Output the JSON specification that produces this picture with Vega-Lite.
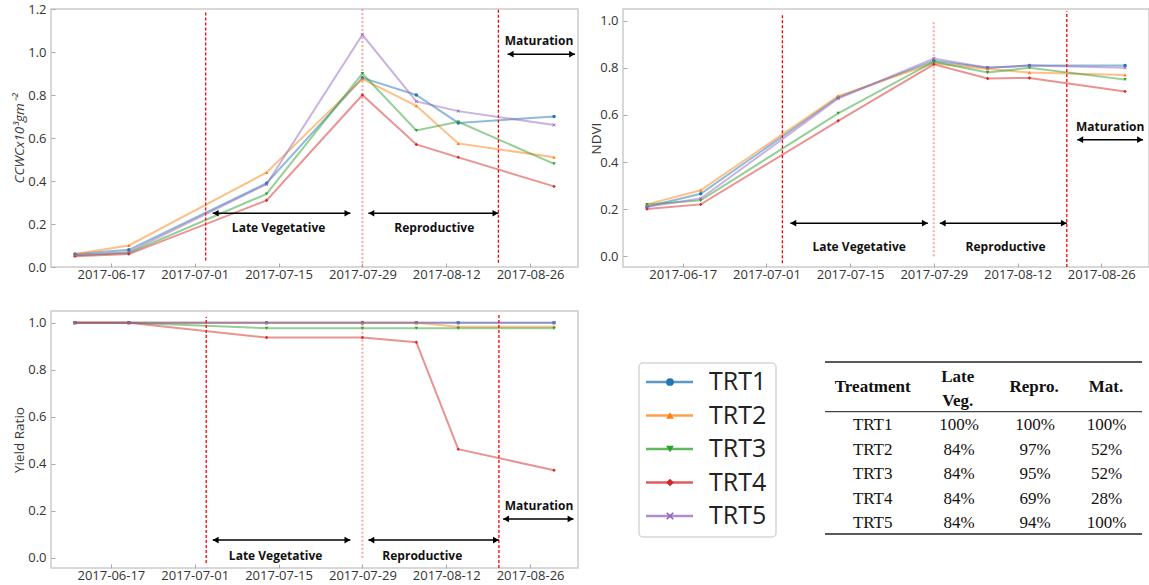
{
  "$schema": "https://vega.github.io/schema/vega-lite/v6.json",
  "autosize": {"type": "pad"},
  "padding": {"left": 11, "top": 2, "right": 0, "bottom": 0},
  "background": "white",
  "columns": 2,
  "bounds": "flush",
  "spacing": {"row": 44, "column": 45},
  "datasets": {
    "ccwc": [
      {"date":"2017-06-11","trt":"TRT1","value":0.06},{"date":"2017-06-20","trt":"TRT1","value":0.08},{"date":"2017-07-13","trt":"TRT1","value":0.39},{"date":"2017-07-29","trt":"TRT1","value":0.88},{"date":"2017-08-07","trt":"TRT1","value":0.80},{"date":"2017-08-14","trt":"TRT1","value":0.67},{"date":"2017-08-30","trt":"TRT1","value":0.70},
      {"date":"2017-06-11","trt":"TRT2","value":0.06},{"date":"2017-06-20","trt":"TRT2","value":0.10},{"date":"2017-07-13","trt":"TRT2","value":0.44},{"date":"2017-07-29","trt":"TRT2","value":0.875},{"date":"2017-08-07","trt":"TRT2","value":0.75},{"date":"2017-08-14","trt":"TRT2","value":0.575},{"date":"2017-08-30","trt":"TRT2","value":0.51},
      {"date":"2017-06-11","trt":"TRT3","value":0.055},{"date":"2017-06-20","trt":"TRT3","value":0.065},{"date":"2017-07-13","trt":"TRT3","value":0.34},{"date":"2017-07-29","trt":"TRT3","value":0.90},{"date":"2017-08-07","trt":"TRT3","value":0.635},{"date":"2017-08-14","trt":"TRT3","value":0.675},{"date":"2017-08-30","trt":"TRT3","value":0.48},
      {"date":"2017-06-11","trt":"TRT4","value":0.05},{"date":"2017-06-20","trt":"TRT4","value":0.06},{"date":"2017-07-13","trt":"TRT4","value":0.31},{"date":"2017-07-29","trt":"TRT4","value":0.80},{"date":"2017-08-07","trt":"TRT4","value":0.57},{"date":"2017-08-14","trt":"TRT4","value":0.51},{"date":"2017-08-30","trt":"TRT4","value":0.375},
      {"date":"2017-06-11","trt":"TRT5","value":0.055},{"date":"2017-06-20","trt":"TRT5","value":0.07},{"date":"2017-07-13","trt":"TRT5","value":0.385},{"date":"2017-07-29","trt":"TRT5","value":1.08},{"date":"2017-08-07","trt":"TRT5","value":0.77},{"date":"2017-08-14","trt":"TRT5","value":0.725},{"date":"2017-08-30","trt":"TRT5","value":0.66}
    ],
    "ndvi": [
      {"date":"2017-06-11","trt":"TRT1","value":0.21},{"date":"2017-06-20","trt":"TRT1","value":0.265},{"date":"2017-07-13","trt":"TRT1","value":0.675},{"date":"2017-07-29","trt":"TRT1","value":0.83},{"date":"2017-08-07","trt":"TRT1","value":0.80},{"date":"2017-08-14","trt":"TRT1","value":0.81},{"date":"2017-08-30","trt":"TRT1","value":0.81},
      {"date":"2017-06-11","trt":"TRT2","value":0.22},{"date":"2017-06-20","trt":"TRT2","value":0.28},{"date":"2017-07-13","trt":"TRT2","value":0.68},{"date":"2017-07-29","trt":"TRT2","value":0.82},{"date":"2017-08-07","trt":"TRT2","value":0.795},{"date":"2017-08-14","trt":"TRT2","value":0.78},{"date":"2017-08-30","trt":"TRT2","value":0.77},
      {"date":"2017-06-11","trt":"TRT3","value":0.22},{"date":"2017-06-20","trt":"TRT3","value":0.237},{"date":"2017-07-13","trt":"TRT3","value":0.607},{"date":"2017-07-29","trt":"TRT3","value":0.826},{"date":"2017-08-07","trt":"TRT3","value":0.78},{"date":"2017-08-14","trt":"TRT3","value":0.80},{"date":"2017-08-30","trt":"TRT3","value":0.75},
      {"date":"2017-06-11","trt":"TRT4","value":0.20},{"date":"2017-06-20","trt":"TRT4","value":0.22},{"date":"2017-07-13","trt":"TRT4","value":0.575},{"date":"2017-07-29","trt":"TRT4","value":0.815},{"date":"2017-08-07","trt":"TRT4","value":0.755},{"date":"2017-08-14","trt":"TRT4","value":0.757},{"date":"2017-08-30","trt":"TRT4","value":0.70},
      {"date":"2017-06-11","trt":"TRT5","value":0.21},{"date":"2017-06-20","trt":"TRT5","value":0.245},{"date":"2017-07-13","trt":"TRT5","value":0.67},{"date":"2017-07-29","trt":"TRT5","value":0.84},{"date":"2017-08-07","trt":"TRT5","value":0.80},{"date":"2017-08-14","trt":"TRT5","value":0.81},{"date":"2017-08-30","trt":"TRT5","value":0.80}
    ],
    "yield": [
      {"date":"2017-06-11","trt":"TRT1","value":1},{"date":"2017-06-20","trt":"TRT1","value":1},{"date":"2017-07-13","trt":"TRT1","value":1},{"date":"2017-07-29","trt":"TRT1","value":1},{"date":"2017-08-07","trt":"TRT1","value":1},{"date":"2017-08-14","trt":"TRT1","value":1},{"date":"2017-08-30","trt":"TRT1","value":1},
      {"date":"2017-06-11","trt":"TRT2","value":1},{"date":"2017-06-20","trt":"TRT2","value":1},{"date":"2017-07-13","trt":"TRT2","value":1},{"date":"2017-07-29","trt":"TRT2","value":1},{"date":"2017-08-07","trt":"TRT2","value":1},{"date":"2017-08-14","trt":"TRT2","value":0.983},{"date":"2017-08-30","trt":"TRT2","value":0.983},
      {"date":"2017-06-11","trt":"TRT3","value":1},{"date":"2017-06-20","trt":"TRT3","value":1},{"date":"2017-07-13","trt":"TRT3","value":0.977},{"date":"2017-07-29","trt":"TRT3","value":0.977},{"date":"2017-08-07","trt":"TRT3","value":0.977},{"date":"2017-08-14","trt":"TRT3","value":0.977},{"date":"2017-08-30","trt":"TRT3","value":0.977},
      {"date":"2017-06-11","trt":"TRT4","value":1},{"date":"2017-06-20","trt":"TRT4","value":1},{"date":"2017-07-13","trt":"TRT4","value":0.937},{"date":"2017-07-29","trt":"TRT4","value":0.937},{"date":"2017-08-07","trt":"TRT4","value":0.917},{"date":"2017-08-14","trt":"TRT4","value":0.462},{"date":"2017-08-30","trt":"TRT4","value":0.372},
      {"date":"2017-06-11","trt":"TRT5","value":1},{"date":"2017-06-20","trt":"TRT5","value":1},{"date":"2017-07-13","trt":"TRT5","value":1},{"date":"2017-07-29","trt":"TRT5","value":1},{"date":"2017-08-07","trt":"TRT5","value":1},{"date":"2017-08-14","trt":"TRT5","value":1},{"date":"2017-08-30","trt":"TRT5","value":1}
    ],
    "vlines": [
      {"panel":"ccwc","kind":"phase","date":"2017-07-02T20:00:00Z","lo":0.03,"hi":1.185},
      {"panel":"ccwc","kind":"phase","date":"2017-08-20T17:00:00Z","lo":0.02,"hi":1.2},
      {"panel":"ccwc","kind":"peak","date":"2017-07-29T00:00:00Z","lo":0,"hi":1.2},
      {"panel":"ndvi","kind":"phase","date":"2017-07-03T16:00:00Z","lo":-0.03,"hi":1.025},
      {"panel":"ndvi","kind":"phase","date":"2017-08-20T06:00:00Z","lo":-0.046,"hi":1.04},
      {"panel":"ndvi","kind":"peak","date":"2017-07-29T00:00:00Z","lo":0,"hi":1.0},
      {"panel":"yield","kind":"phase","date":"2017-07-02T22:00:00Z","lo":-0.023,"hi":1.025},
      {"panel":"yield","kind":"phase","date":"2017-08-20T19:00:00Z","lo":-0.044,"hi":1.04},
      {"panel":"yield","kind":"peak","date":"2017-07-29T00:00:00Z","lo":0,"hi":1.01}
    ],
    "arrows": [
      {"panel":"ccwc","label":"Late Vegetative","start":"2017-07-04T00:00:00Z","end":"2017-07-27T00:00:00Z","ay":0.25,"tx":"2017-07-15T00:00:00Z","ty":0.18},
      {"panel":"ccwc","label":"Reproductive","start":"2017-07-30T00:00:00Z","end":"2017-08-20T17:00:00Z","ay":0.25,"tx":"2017-08-10T00:00:00Z","ty":0.18},
      {"panel":"ccwc","label":"Maturation","start":"2017-08-22T06:00:00Z","end":"2017-09-02T12:00:00Z","ay":0.99,"tx":"2017-08-27T12:00:00Z","ty":1.05},
      {"panel":"ndvi","label":"Late Vegetative","start":"2017-07-05T00:00:00Z","end":"2017-07-28T00:00:00Z","ay":0.14,"tx":"2017-07-16T12:00:00Z","ty":0.04},
      {"panel":"ndvi","label":"Reproductive","start":"2017-07-30T00:00:00Z","end":"2017-08-20T06:00:00Z","ay":0.14,"tx":"2017-08-10T00:00:00Z","ty":0.04},
      {"panel":"ndvi","label":"Maturation","start":"2017-08-22T00:00:00Z","end":"2017-09-02T00:00:00Z","ay":0.495,"tx":"2017-08-27T12:00:00Z","ty":0.55},
      {"panel":"yield","label":"Late Vegetative","start":"2017-07-04T00:00:00Z","end":"2017-07-27T00:00:00Z","ay":0.075,"tx":"2017-07-14T12:00:00Z","ty":0.005},
      {"panel":"yield","label":"Reproductive","start":"2017-07-30T00:00:00Z","end":"2017-08-20T19:00:00Z","ay":0.075,"tx":"2017-08-08T00:00:00Z","ty":0.005},
      {"panel":"yield","label":"Maturation","start":"2017-08-21T12:00:00Z","end":"2017-09-02T06:00:00Z","ay":0.165,"tx":"2017-08-27T12:00:00Z","ty":0.22}
    ],
    "legend": [{"trt":"TRT1"},{"trt":"TRT2"},{"trt":"TRT3"},{"trt":"TRT4"},{"trt":"TRT5"}],
    "table": [
      {"Treatment":"TRT1","LateVeg":"100%","Repro":"100%","Mat":"100%"},
      {"Treatment":"TRT2","LateVeg":"84%","Repro":"97%","Mat":"52%"},
      {"Treatment":"TRT3","LateVeg":"84%","Repro":"95%","Mat":"52%"},
      {"Treatment":"TRT4","LateVeg":"84%","Repro":"69%","Mat":"28%"},
      {"Treatment":"TRT5","LateVeg":"84%","Repro":"94%","Mat":"100%"}
    ]
  },
  "concat": [
    {
      "width": 527, "height": 258,
      "layer": [
        {"data":{"name":"ccwc"},
         "mark":{"type":"line","strokeWidth":2,"opacity":0.5},
         "encoding":{
           "x":{"field":"date","type":"temporal","scale":{"type":"utc","domain":[{"year":2017,"month":6,"date":7,"utc":true},{"year":2017,"month":9,"date":3,"utc":true}]},
                "axis":{"values":[{"year":2017,"month":6,"date":17,"utc":true},{"year":2017,"month":7,"date":1,"utc":true},{"year":2017,"month":7,"date":15,"utc":true},{"year":2017,"month":7,"date":29,"utc":true},{"year":2017,"month":8,"date":12,"utc":true},{"year":2017,"month":8,"date":26,"utc":true}],"format":"%Y-%m-%d","title":null}},
           "y":{"field":"value","type":"quantitative","scale":{"domain":[0,1.2],"nice":false,"zero":false},
                "axis":{"values":[0,0.2,0.4,0.6,0.8,1,1.2],"format":".1f","title":"CCWCx10³gm⁻²","titleFontStyle":"italic","titleX":-32,"titleBaseline":"middle"}},
           "color":{"field":"trt","type":"nominal","scale":{"domain":["TRT1","TRT2","TRT3","TRT4","TRT5"],"range":["#1f77b4","#ff7f0e","#2ca02c","#d62728","#9467bd"]},"legend":null}}},
        {"data":{"name":"vlines"},"transform":[{"filter":"datum.panel==='ccwc' && datum.kind==='phase'"}],
         "mark":{"type":"rule","color":"#ff0000","strokeDash":[3,2],"strokeWidth":1.3},
         "encoding":{"x":{"field":"date","type":"temporal","scale":{"type":"utc","domain":[{"year":2017,"month":6,"date":7,"utc":true},{"year":2017,"month":9,"date":3,"utc":true}]}},
                     "y":{"field":"lo","type":"quantitative","scale":{"domain":[0,1.2],"nice":false,"zero":false}},"y2":{"field":"hi"}}},
        {"data":{"name":"vlines"},"transform":[{"filter":"datum.panel==='ccwc' && datum.kind==='peak'"}],
         "mark":{"type":"rule","color":"#ff7070","strokeDash":[2,2],"strokeWidth":2,"opacity":0.6},
         "encoding":{"x":{"field":"date","type":"temporal","scale":{"type":"utc","domain":[{"year":2017,"month":6,"date":7,"utc":true},{"year":2017,"month":9,"date":3,"utc":true}]}},
                     "y":{"field":"lo","type":"quantitative","scale":{"domain":[0,1.2],"nice":false,"zero":false}},"y2":{"field":"hi"}}},
        {"data":{"name":"ccwc"},
         "mark":{"type":"point","filled":true,"size":12,"opacity":1},
         "encoding":{
           "x":{"field":"date","type":"temporal","scale":{"type":"utc","domain":[{"year":2017,"month":6,"date":7,"utc":true},{"year":2017,"month":9,"date":3,"utc":true}]}},
           "y":{"field":"value","type":"quantitative","scale":{"domain":[0,1.2],"nice":false,"zero":false}},
           "color":{"field":"trt","type":"nominal","scale":{"domain":["TRT1","TRT2","TRT3","TRT4","TRT5"],"range":["#1f77b4","#ff7f0e","#2ca02c","#d62728","#9467bd"]},"legend":null},
           "shape":{"field":"trt","type":"nominal","scale":{"domain":["TRT1","TRT2","TRT3","TRT4","TRT5"],"range":["circle","triangle-up","triangle-down","diamond","M-1,-0.7L-0.7,-1L0,-0.3L0.7,-1L1,-0.7L0.3,0L1,0.7L0.7,1L0,0.3L-0.7,1L-1,0.7L-0.3,0Z"]},"legend":null}}},
        {"data":{"name":"arrows"},"transform":[{"filter":"datum.panel==='ccwc'"}],
         "mark":{"type":"rule","color":"black","strokeWidth":1.5},
         "encoding":{"x":{"field":"start","type":"temporal","scale":{"type":"utc","domain":[{"year":2017,"month":6,"date":7,"utc":true},{"year":2017,"month":9,"date":3,"utc":true}]}},"x2":{"field":"end"},
                     "y":{"field":"ay","type":"quantitative","scale":{"domain":[0,1.2],"nice":false,"zero":false}}}},
        {"data":{"name":"arrows"},"transform":[{"filter":"datum.panel==='ccwc'"}],
         "mark":{"type":"point","shape":"triangle-left","filled":true,"color":"black","opacity":1,"size":45,"xOffset":3},
         "encoding":{"x":{"field":"start","type":"temporal","scale":{"type":"utc","domain":[{"year":2017,"month":6,"date":7,"utc":true},{"year":2017,"month":9,"date":3,"utc":true}]}},
                     "y":{"field":"ay","type":"quantitative","scale":{"domain":[0,1.2],"nice":false,"zero":false}}}},
        {"data":{"name":"arrows"},"transform":[{"filter":"datum.panel==='ccwc'"}],
         "mark":{"type":"point","shape":"triangle-right","filled":true,"color":"black","opacity":1,"size":45,"xOffset":-3},
         "encoding":{"x":{"field":"end","type":"temporal","scale":{"type":"utc","domain":[{"year":2017,"month":6,"date":7,"utc":true},{"year":2017,"month":9,"date":3,"utc":true}]}},
                     "y":{"field":"ay","type":"quantitative","scale":{"domain":[0,1.2],"nice":false,"zero":false}}}},
        {"data":{"name":"arrows"},"transform":[{"filter":"datum.panel==='ccwc'"}],
         "mark":{"type":"text","font":"Open Sans","fontWeight":"bold","fontSize":12,"color":"#111111","baseline":"middle"},
         "encoding":{"x":{"field":"tx","type":"temporal","scale":{"type":"utc","domain":[{"year":2017,"month":6,"date":7,"utc":true},{"year":2017,"month":9,"date":3,"utc":true}]}},
                     "y":{"field":"ty","type":"quantitative","scale":{"domain":[0,1.2],"nice":false,"zero":false}},
                     "text":{"field":"label"}}}
      ]
    },
    {
      "width": 526, "height": 258,
      "layer": [
        {"data":{"name":"ndvi"},
         "mark":{"type":"line","strokeWidth":2,"opacity":0.5},
         "encoding":{
           "x":{"field":"date","type":"temporal","scale":{"type":"utc","domain":[{"year":2017,"month":6,"date":7,"utc":true},{"year":2017,"month":9,"date":3,"utc":true}]},
                "axis":{"values":[{"year":2017,"month":6,"date":17,"utc":true},{"year":2017,"month":7,"date":1,"utc":true},{"year":2017,"month":7,"date":15,"utc":true},{"year":2017,"month":7,"date":29,"utc":true},{"year":2017,"month":8,"date":12,"utc":true},{"year":2017,"month":8,"date":26,"utc":true}],"format":"%Y-%m-%d","title":null}},
           "y":{"field":"value","type":"quantitative","scale":{"domain":[-0.046,1.05],"nice":false,"zero":false},
                "axis":{"values":[0,0.2,0.4,0.6,0.8,1],"format":".1f","title":"NDVI","titleX":-27,"titleBaseline":"middle"}},
           "color":{"field":"trt","type":"nominal","scale":{"domain":["TRT1","TRT2","TRT3","TRT4","TRT5"],"range":["#1f77b4","#ff7f0e","#2ca02c","#d62728","#9467bd"]},"legend":null}}},
        {"data":{"name":"vlines"},"transform":[{"filter":"datum.panel==='ndvi' && datum.kind==='phase'"}],
         "mark":{"type":"rule","color":"#ff0000","strokeDash":[3,2],"strokeWidth":1.3},
         "encoding":{"x":{"field":"date","type":"temporal","scale":{"type":"utc","domain":[{"year":2017,"month":6,"date":7,"utc":true},{"year":2017,"month":9,"date":3,"utc":true}]}},
                     "y":{"field":"lo","type":"quantitative","scale":{"domain":[-0.046,1.05],"nice":false,"zero":false}},"y2":{"field":"hi"}}},
        {"data":{"name":"vlines"},"transform":[{"filter":"datum.panel==='ndvi' && datum.kind==='peak'"}],
         "mark":{"type":"rule","color":"#ff7070","strokeDash":[2,2],"strokeWidth":2,"opacity":0.6},
         "encoding":{"x":{"field":"date","type":"temporal","scale":{"type":"utc","domain":[{"year":2017,"month":6,"date":7,"utc":true},{"year":2017,"month":9,"date":3,"utc":true}]}},
                     "y":{"field":"lo","type":"quantitative","scale":{"domain":[-0.046,1.05],"nice":false,"zero":false}},"y2":{"field":"hi"}}},
        {"data":{"name":"ndvi"},
         "mark":{"type":"point","filled":true,"size":12,"opacity":1},
         "encoding":{
           "x":{"field":"date","type":"temporal","scale":{"type":"utc","domain":[{"year":2017,"month":6,"date":7,"utc":true},{"year":2017,"month":9,"date":3,"utc":true}]}},
           "y":{"field":"value","type":"quantitative","scale":{"domain":[-0.046,1.05],"nice":false,"zero":false}},
           "color":{"field":"trt","type":"nominal","scale":{"domain":["TRT1","TRT2","TRT3","TRT4","TRT5"],"range":["#1f77b4","#ff7f0e","#2ca02c","#d62728","#9467bd"]},"legend":null},
           "shape":{"field":"trt","type":"nominal","scale":{"domain":["TRT1","TRT2","TRT3","TRT4","TRT5"],"range":["circle","triangle-up","triangle-down","diamond","M-1,-0.7L-0.7,-1L0,-0.3L0.7,-1L1,-0.7L0.3,0L1,0.7L0.7,1L0,0.3L-0.7,1L-1,0.7L-0.3,0Z"]},"legend":null}}},
        {"data":{"name":"arrows"},"transform":[{"filter":"datum.panel==='ndvi'"}],
         "mark":{"type":"rule","color":"black","strokeWidth":1.5},
         "encoding":{"x":{"field":"start","type":"temporal","scale":{"type":"utc","domain":[{"year":2017,"month":6,"date":7,"utc":true},{"year":2017,"month":9,"date":3,"utc":true}]}},"x2":{"field":"end"},
                     "y":{"field":"ay","type":"quantitative","scale":{"domain":[-0.046,1.05],"nice":false,"zero":false}}}},
        {"data":{"name":"arrows"},"transform":[{"filter":"datum.panel==='ndvi'"}],
         "mark":{"type":"point","shape":"triangle-left","filled":true,"color":"black","opacity":1,"size":45,"xOffset":3},
         "encoding":{"x":{"field":"start","type":"temporal","scale":{"type":"utc","domain":[{"year":2017,"month":6,"date":7,"utc":true},{"year":2017,"month":9,"date":3,"utc":true}]}},
                     "y":{"field":"ay","type":"quantitative","scale":{"domain":[-0.046,1.05],"nice":false,"zero":false}}}},
        {"data":{"name":"arrows"},"transform":[{"filter":"datum.panel==='ndvi'"}],
         "mark":{"type":"point","shape":"triangle-right","filled":true,"color":"black","opacity":1,"size":45,"xOffset":-3},
         "encoding":{"x":{"field":"end","type":"temporal","scale":{"type":"utc","domain":[{"year":2017,"month":6,"date":7,"utc":true},{"year":2017,"month":9,"date":3,"utc":true}]}},
                     "y":{"field":"ay","type":"quantitative","scale":{"domain":[-0.046,1.05],"nice":false,"zero":false}}}},
        {"data":{"name":"arrows"},"transform":[{"filter":"datum.panel==='ndvi'"}],
         "mark":{"type":"text","font":"Open Sans","fontWeight":"bold","fontSize":12,"color":"#111111","baseline":"middle"},
         "encoding":{"x":{"field":"tx","type":"temporal","scale":{"type":"utc","domain":[{"year":2017,"month":6,"date":7,"utc":true},{"year":2017,"month":9,"date":3,"utc":true}]}},
                     "y":{"field":"ty","type":"quantitative","scale":{"domain":[-0.046,1.05],"nice":false,"zero":false}},
                     "text":{"field":"label"}}}
      ]
    },
    {
      "width": 527, "height": 257,
      "layer": [
        {"data":{"name":"yield"},
         "mark":{"type":"line","strokeWidth":2,"opacity":0.5},
         "encoding":{
           "x":{"field":"date","type":"temporal","scale":{"type":"utc","domain":[{"year":2017,"month":6,"date":7,"utc":true},{"year":2017,"month":9,"date":3,"utc":true}]},
                "axis":{"values":[{"year":2017,"month":6,"date":17,"utc":true},{"year":2017,"month":7,"date":1,"utc":true},{"year":2017,"month":7,"date":15,"utc":true},{"year":2017,"month":7,"date":29,"utc":true},{"year":2017,"month":8,"date":12,"utc":true},{"year":2017,"month":8,"date":26,"utc":true}],"format":"%Y-%m-%d","title":null}},
           "y":{"field":"value","type":"quantitative","scale":{"domain":[-0.044,1.05],"nice":false,"zero":false},
                "axis":{"values":[0,0.2,0.4,0.6,0.8,1],"format":".1f","title":"Yield Ratio","titleX":-32,"titleBaseline":"middle"}},
           "color":{"field":"trt","type":"nominal","scale":{"domain":["TRT1","TRT2","TRT3","TRT4","TRT5"],"range":["#1f77b4","#ff7f0e","#2ca02c","#d62728","#9467bd"]},"legend":null}}},
        {"data":{"name":"vlines"},"transform":[{"filter":"datum.panel==='yield' && datum.kind==='phase'"}],
         "mark":{"type":"rule","color":"#ff0000","strokeDash":[3,2],"strokeWidth":1.3},
         "encoding":{"x":{"field":"date","type":"temporal","scale":{"type":"utc","domain":[{"year":2017,"month":6,"date":7,"utc":true},{"year":2017,"month":9,"date":3,"utc":true}]}},
                     "y":{"field":"lo","type":"quantitative","scale":{"domain":[-0.044,1.05],"nice":false,"zero":false}},"y2":{"field":"hi"}}},
        {"data":{"name":"vlines"},"transform":[{"filter":"datum.panel==='yield' && datum.kind==='peak'"}],
         "mark":{"type":"rule","color":"#ff7070","strokeDash":[2,2],"strokeWidth":2,"opacity":0.6},
         "encoding":{"x":{"field":"date","type":"temporal","scale":{"type":"utc","domain":[{"year":2017,"month":6,"date":7,"utc":true},{"year":2017,"month":9,"date":3,"utc":true}]}},
                     "y":{"field":"lo","type":"quantitative","scale":{"domain":[-0.044,1.05],"nice":false,"zero":false}},"y2":{"field":"hi"}}},
        {"data":{"name":"yield"},
         "mark":{"type":"point","filled":true,"size":12,"opacity":1},
         "encoding":{
           "x":{"field":"date","type":"temporal","scale":{"type":"utc","domain":[{"year":2017,"month":6,"date":7,"utc":true},{"year":2017,"month":9,"date":3,"utc":true}]}},
           "y":{"field":"value","type":"quantitative","scale":{"domain":[-0.044,1.05],"nice":false,"zero":false}},
           "color":{"field":"trt","type":"nominal","scale":{"domain":["TRT1","TRT2","TRT3","TRT4","TRT5"],"range":["#1f77b4","#ff7f0e","#2ca02c","#d62728","#9467bd"]},"legend":null},
           "shape":{"field":"trt","type":"nominal","scale":{"domain":["TRT1","TRT2","TRT3","TRT4","TRT5"],"range":["circle","triangle-up","triangle-down","diamond","M-1,-0.7L-0.7,-1L0,-0.3L0.7,-1L1,-0.7L0.3,0L1,0.7L0.7,1L0,0.3L-0.7,1L-1,0.7L-0.3,0Z"]},"legend":null}}},
        {"data":{"name":"arrows"},"transform":[{"filter":"datum.panel==='yield'"}],
         "mark":{"type":"rule","color":"black","strokeWidth":1.5},
         "encoding":{"x":{"field":"start","type":"temporal","scale":{"type":"utc","domain":[{"year":2017,"month":6,"date":7,"utc":true},{"year":2017,"month":9,"date":3,"utc":true}]}},"x2":{"field":"end"},
                     "y":{"field":"ay","type":"quantitative","scale":{"domain":[-0.044,1.05],"nice":false,"zero":false}}}},
        {"data":{"name":"arrows"},"transform":[{"filter":"datum.panel==='yield'"}],
         "mark":{"type":"point","shape":"triangle-left","filled":true,"color":"black","opacity":1,"size":45,"xOffset":3},
         "encoding":{"x":{"field":"start","type":"temporal","scale":{"type":"utc","domain":[{"year":2017,"month":6,"date":7,"utc":true},{"year":2017,"month":9,"date":3,"utc":true}]}},
                     "y":{"field":"ay","type":"quantitative","scale":{"domain":[-0.044,1.05],"nice":false,"zero":false}}}},
        {"data":{"name":"arrows"},"transform":[{"filter":"datum.panel==='yield'"}],
         "mark":{"type":"point","shape":"triangle-right","filled":true,"color":"black","opacity":1,"size":45,"xOffset":-3},
         "encoding":{"x":{"field":"end","type":"temporal","scale":{"type":"utc","domain":[{"year":2017,"month":6,"date":7,"utc":true},{"year":2017,"month":9,"date":3,"utc":true}]}},
                     "y":{"field":"ay","type":"quantitative","scale":{"domain":[-0.044,1.05],"nice":false,"zero":false}}}},
        {"data":{"name":"arrows"},"transform":[{"filter":"datum.panel==='yield'"}],
         "mark":{"type":"text","font":"Open Sans","fontWeight":"bold","fontSize":12,"color":"#111111","baseline":"middle"},
         "encoding":{"x":{"field":"tx","type":"temporal","scale":{"type":"utc","domain":[{"year":2017,"month":6,"date":7,"utc":true},{"year":2017,"month":9,"date":3,"utc":true}]}},
                     "y":{"field":"ty","type":"quantitative","scale":{"domain":[-0.044,1.05],"nice":false,"zero":false}},
                     "text":{"field":"label"}}}
      ]
    },
    {
      "width": 526, "height": 257,
      "view": {"stroke": null},
      "layer": [
        {"data":{"values":[{}]},
         "mark":{"type":"rect","fill":"white","stroke":"#d6d6d6","strokeWidth":1.5,"cornerRadius":4},
         "encoding":{"x":{"datum":16,"type":"quantitative","scale":{"domain":[0,526],"nice":false,"zero":false},"axis":null},"x2":{"datum":153},
                     "y":{"datum":52,"type":"quantitative","scale":{"domain":[0,257],"reverse":true,"nice":false,"zero":false},"axis":null},"y2":{"datum":226}}},
        {"data":{"name":"legend"},
         "mark":{"type":"rule","strokeWidth":2.5,"opacity":0.75},
         "encoding":{"x":{"datum":23,"type":"quantitative","scale":{"domain":[0,526],"nice":false,"zero":false},"axis":null},"x2":{"datum":70},
                     "y":{"field":"trt","type":"nominal","scale":{"type":"point","domain":["TRT1","TRT2","TRT3","TRT4","TRT5"],"range":[71,205],"padding":0},"axis":null},
                     "color":{"field":"trt","type":"nominal","scale":{"domain":["TRT1","TRT2","TRT3","TRT4","TRT5"],"range":["#1f77b4","#ff7f0e","#2ca02c","#d62728","#9467bd"]},"legend":null}}},
        {"data":{"name":"legend"},
         "mark":{"type":"point","filled":true,"size":60,"opacity":1},
         "encoding":{"x":{"datum":47,"type":"quantitative","scale":{"domain":[0,526],"nice":false,"zero":false},"axis":null},
                     "y":{"field":"trt","type":"nominal","scale":{"type":"point","domain":["TRT1","TRT2","TRT3","TRT4","TRT5"],"range":[71,205],"padding":0},"axis":null},
                     "color":{"field":"trt","type":"nominal","scale":{"domain":["TRT1","TRT2","TRT3","TRT4","TRT5"],"range":["#1f77b4","#ff7f0e","#2ca02c","#d62728","#9467bd"]},"legend":null},
                     "shape":{"field":"trt","type":"nominal","scale":{"domain":["TRT1","TRT2","TRT3","TRT4","TRT5"],"range":["circle","triangle-up","triangle-down","diamond","M-1,-0.7L-0.7,-1L0,-0.3L0.7,-1L1,-0.7L0.3,0L1,0.7L0.7,1L0,0.3L-0.7,1L-1,0.7L-0.3,0Z"]},"legend":null}}},
        {"data":{"name":"legend"},
         "mark":{"type":"text","align":"left","baseline":"middle","font":"Open Sans","fontSize":25,"color":"#222222"},
         "encoding":{"x":{"datum":86,"type":"quantitative","scale":{"domain":[0,526],"nice":false,"zero":false},"axis":null},
                     "y":{"field":"trt","type":"nominal","scale":{"type":"point","domain":["TRT1","TRT2","TRT3","TRT4","TRT5"],"range":[71,205],"padding":0},"axis":null},
                     "text":{"field":"trt"}}},
        {"data":{"values":[{}]},"mark":{"type":"rule","strokeWidth":1.6,"color":"#222222"},
         "encoding":{"x":{"datum":202,"type":"quantitative","scale":{"domain":[0,526],"nice":false,"zero":false},"axis":null},"x2":{"datum":519},
                     "y":{"datum":51,"type":"quantitative","scale":{"domain":[0,257],"reverse":true,"nice":false,"zero":false},"axis":null}}},
        {"data":{"values":[{}]},"mark":{"type":"rule","strokeWidth":1.3,"color":"#444444"},
         "encoding":{"x":{"datum":202,"type":"quantitative","scale":{"domain":[0,526],"nice":false,"zero":false},"axis":null},"x2":{"datum":519},
                     "y":{"datum":100.7,"type":"quantitative","scale":{"domain":[0,257],"reverse":true,"nice":false,"zero":false},"axis":null}}},
        {"data":{"values":[{}]},"mark":{"type":"rule","strokeWidth":1.6,"color":"#222222"},
         "encoding":{"x":{"datum":202,"type":"quantitative","scale":{"domain":[0,526],"nice":false,"zero":false},"axis":null},"x2":{"datum":519},
                     "y":{"datum":223,"type":"quantitative","scale":{"domain":[0,257],"reverse":true,"nice":false,"zero":false},"axis":null}}},
        {"data":{"values":[{}]},"mark":{"type":"text","text":"Treatment","font":"Liberation Serif","fontSize":17,"fontWeight":"bold","color":"#111111","baseline":"middle"},
         "encoding":{"x":{"datum":249.7,"type":"quantitative","scale":{"domain":[0,526],"nice":false,"zero":false},"axis":null},
                     "y":{"datum":76,"type":"quantitative","scale":{"domain":[0,257],"reverse":true,"nice":false,"zero":false},"axis":null}}},
        {"data":{"values":[{}]},"mark":{"type":"text","text":"Late","font":"Liberation Serif","fontSize":17,"fontWeight":"bold","color":"#111111","baseline":"middle"},
         "encoding":{"x":{"datum":334.7,"type":"quantitative","scale":{"domain":[0,526],"nice":false,"zero":false},"axis":null},
                     "y":{"datum":66,"type":"quantitative","scale":{"domain":[0,257],"reverse":true,"nice":false,"zero":false},"axis":null}}},
        {"data":{"values":[{}]},"mark":{"type":"text","text":"Veg.","font":"Liberation Serif","fontSize":17,"fontWeight":"bold","color":"#111111","baseline":"middle"},
         "encoding":{"x":{"datum":334.7,"type":"quantitative","scale":{"domain":[0,526],"nice":false,"zero":false},"axis":null},
                     "y":{"datum":89.5,"type":"quantitative","scale":{"domain":[0,257],"reverse":true,"nice":false,"zero":false},"axis":null}}},
        {"data":{"values":[{}]},"mark":{"type":"text","text":"Repro.","font":"Liberation Serif","fontSize":17,"fontWeight":"bold","color":"#111111","baseline":"middle"},
         "encoding":{"x":{"datum":411,"type":"quantitative","scale":{"domain":[0,526],"nice":false,"zero":false},"axis":null},
                     "y":{"datum":76,"type":"quantitative","scale":{"domain":[0,257],"reverse":true,"nice":false,"zero":false},"axis":null}}},
        {"data":{"values":[{}]},"mark":{"type":"text","text":"Mat.","font":"Liberation Serif","fontSize":17,"fontWeight":"bold","color":"#111111","baseline":"middle"},
         "encoding":{"x":{"datum":483,"type":"quantitative","scale":{"domain":[0,526],"nice":false,"zero":false},"axis":null},
                     "y":{"datum":76,"type":"quantitative","scale":{"domain":[0,257],"reverse":true,"nice":false,"zero":false},"axis":null}}},
        {"data":{"name":"table"},"mark":{"type":"text","font":"Liberation Serif","fontSize":17,"color":"#111111","baseline":"middle"},
         "encoding":{"x":{"datum":249.7,"type":"quantitative","scale":{"domain":[0,526],"nice":false,"zero":false},"axis":null},
                     "y":{"field":"Treatment","type":"nominal","scale":{"type":"point","domain":["TRT1","TRT2","TRT3","TRT4","TRT5"],"range":[114,212.3],"padding":0},"axis":null},
                     "text":{"field":"Treatment"}}},
        {"data":{"name":"table"},"mark":{"type":"text","font":"Liberation Serif","fontSize":17,"color":"#111111","baseline":"middle"},
         "encoding":{"x":{"datum":336,"type":"quantitative","scale":{"domain":[0,526],"nice":false,"zero":false},"axis":null},
                     "y":{"field":"Treatment","type":"nominal","scale":{"type":"point","domain":["TRT1","TRT2","TRT3","TRT4","TRT5"],"range":[114,212.3],"padding":0},"axis":null},
                     "text":{"field":"LateVeg"}}},
        {"data":{"name":"table"},"mark":{"type":"text","font":"Liberation Serif","fontSize":17,"color":"#111111","baseline":"middle"},
         "encoding":{"x":{"datum":412,"type":"quantitative","scale":{"domain":[0,526],"nice":false,"zero":false},"axis":null},
                     "y":{"field":"Treatment","type":"nominal","scale":{"type":"point","domain":["TRT1","TRT2","TRT3","TRT4","TRT5"],"range":[114,212.3],"padding":0},"axis":null},
                     "text":{"field":"Repro"}}},
        {"data":{"name":"table"},"mark":{"type":"text","font":"Liberation Serif","fontSize":17,"color":"#111111","baseline":"middle"},
         "encoding":{"x":{"datum":483.7,"type":"quantitative","scale":{"domain":[0,526],"nice":false,"zero":false},"axis":null},
                     "y":{"field":"Treatment","type":"nominal","scale":{"type":"point","domain":["TRT1","TRT2","TRT3","TRT4","TRT5"],"range":[114,212.3],"padding":0},"axis":null},
                     "text":{"field":"Mat"}}}
      ],
      "resolve": {"scale": {"y": "independent"}}
    }
  ],
  "config": {
    "view": {"stroke": "#cccccc", "strokeWidth": 1.5},
    "font": "Open Sans",
    "axis": {"grid": false, "domain": false, "labelFont": "Open Sans", "labelFontSize": 13, "labelColor": "#333333", "tickColor": "#aaaaaa", "tickSize": -4, "tickWidth": 1, "titleFont": "Open Sans", "titleFontSize": 13.5, "titleFontWeight": "normal", "titleColor": "#3a3a3a"},
    "axisX": {"labelPadding": 5, "labelFlush": false},
    "axisY": {"labelPadding": 9}
  }
}
